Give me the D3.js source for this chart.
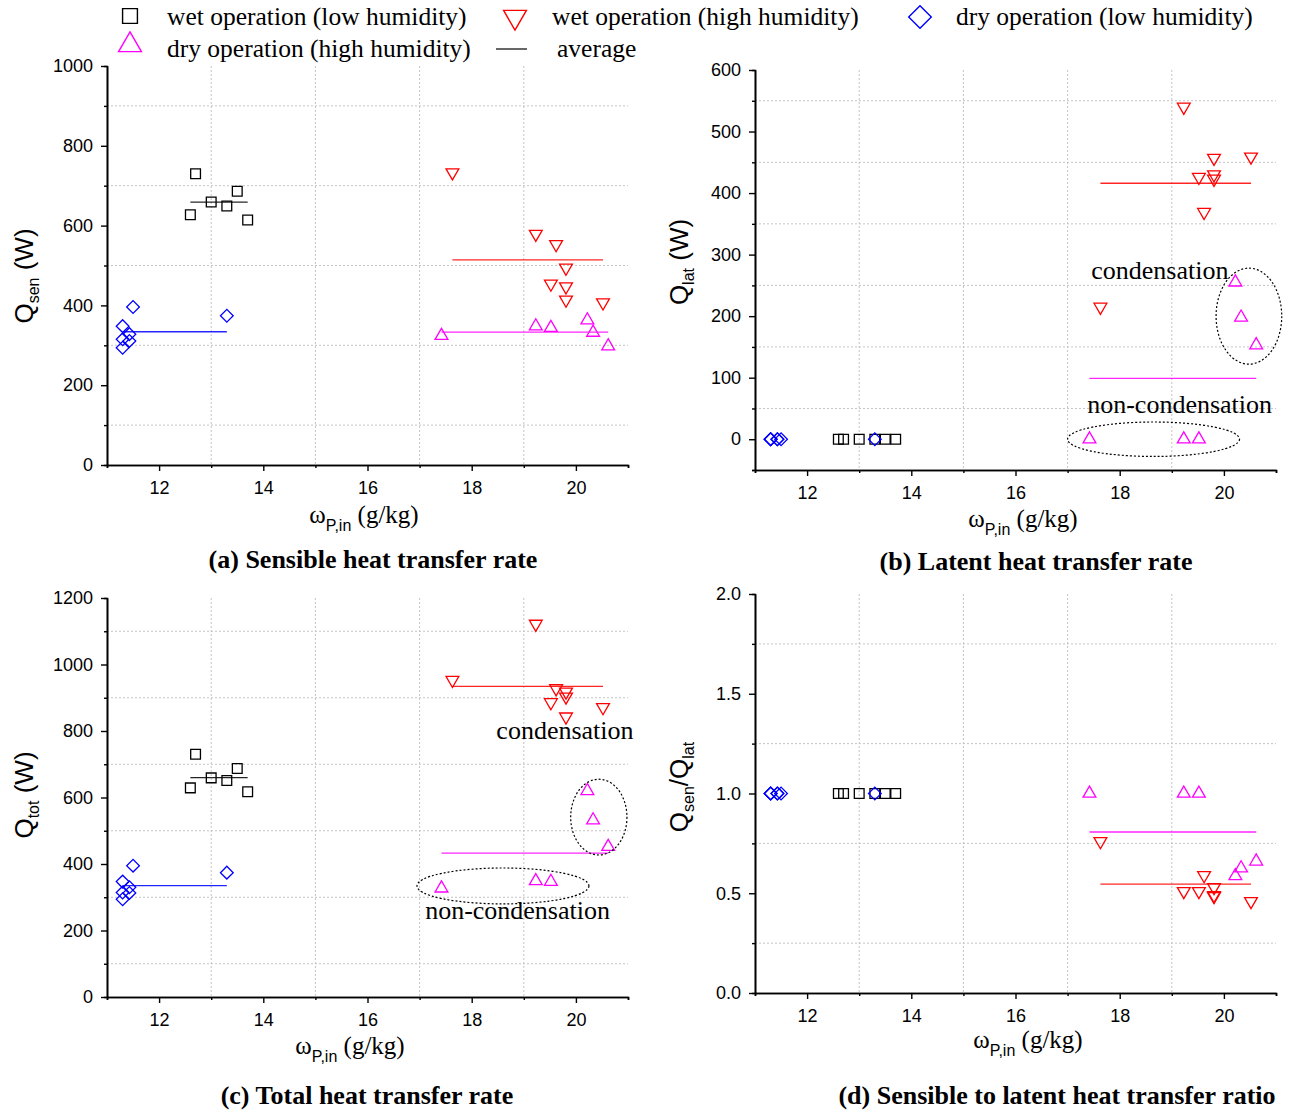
<!DOCTYPE html>
<html lang="en">
<head>
<meta charset="utf-8">
<title></title>
<script src="https://d3js.org/d3.v7.min.js"></script>
<style>
  body { margin: 0; background: #fff; }
  svg { display: block; }
  .tick text { font-family: "Liberation Sans", Arial, sans-serif; font-size: 18px; fill: #000; }
  .domain { stroke: #000; stroke-width: 1.6px; }
  .tick line { stroke: #000; stroke-width: 1.4px; }
  .grid line { stroke: #c4c4c4; stroke-width: 1px; stroke-dasharray: 2,2; }
  .serif { font-family: "Liberation Serif", "Times New Roman", serif; }
  .sans { font-family: "Liberation Sans", Arial, sans-serif; }
</style>
</head>
<body>
<svg width="1294" height="1112"></svg>
<script>
// humidity ratio w_P,in (g/kg) of each run
var xWetLow  = [12.6, 12.7, 13.0, 13.3, 13.5, 13.7];
var xDryLow  = [11.3, 11.3, 11.3, 11.43, 11.43, 11.5, 13.3];
var xWetHigh = [17.63, 19.23, 19.52, 19.62, 19.81, 19.81, 19.81, 20.52];
var xDryHigh = [17.42, 19.23, 19.52, 20.22, 20.33, 20.62];

// (a) sensible (W)
var senWetLow  = [627, 730, 659, 649, 686, 614];
var senDryLow  = [348, 315, 294, 328, 311, 396, 374];
var senWetHigh = [733, 579, 454, 553, 494, 447, 414, 407];
var senDryHigh = [324, 348, 344, 363, 332, 298];

// (b) latent (W)
var latWetLow  = [0, 0, 0, 0, 0, 0];
var latDryLow  = [0, 0, 0, 0, 0, 0, 0];
var latWetHigh = [215, 540, 426, 369, 423, 457, 430, 459];
var latDryHigh = [0, 0, 0, 255, 198, 153];

// (c) total (W)
var totWetLow  = [629, 730, 659, 651, 687, 617];
var totDryLow  = [347, 314, 294, 330, 313, 395, 374];
var totWetHigh = [953, 1122, 886, 928, 918, 903, 843, 871];
var totDryHigh = [327, 349, 347, 620, 532, 452];

// (d) ratio
var ratWetLow  = [1, 1, 1, 1, 1, 1];
var ratDryLow  = [1, 1, 1, 1, 1, 1, 1];
var ratWetHigh = [0.76, 0.51, 0.51, 0.59, 0.53, 0.49, 0.485, 0.46];
var ratDryHigh = [1, 1, 1, 0.587, 0.626, 0.66];

// averages, order: wet low, dry low, wet high, dry high (null = not shown)
var avgSen = [659, 334, 514, 333];
var avgLat = [null, null, 416, 99];
var avgTot = [660, 335, 934, 433];
var avgRat = [null, null, 0.546, 0.807];

var legendLabels = ["wet operation (low humidity)", "wet operation (high humidity)",
                    "dry operation (low humidity)", "dry operation (high humidity)", "average"];
var xMajor = [12, 14, 16, 18, 20];
var xMinor = [11, 13, 15, 17, 19, 21];

var svg = d3.select("svg");
var colors = ["#000000", "#ff0000", "#0000ff", "#ff00ff"];

// marker shapes
var sq = d3.symbol().type(d3.symbolSquare);
var tri = d3.symbol().type(d3.symbolTriangle);
function marker(sel, kind, size) {
  if (kind == 0) sel.attr("d", sq.size(size)());
  if (kind == 1) sel.attr("d", tri.size(size * 0.75)()).attr("transform", function() { return d3.select(this).attr("transform") + " rotate(180)"; });
  if (kind == 2) sel.attr("d", sq.size(size * 0.85)()).attr("transform", function() { return d3.select(this).attr("transform") + " rotate(45)"; });
  if (kind == 3) sel.attr("d", tri.size(size * 0.75)());
}

function panel(p) {
  var g = svg.append("g");
  var x = d3.scaleLinear().domain([11, 21]).range([p.left, p.left + 521]);
  var y = d3.scaleLinear().domain(p.yDomain).range([p.bottom, p.top]);

  // dotted grid at minor positions
  var grid = g.append("g").attr("class", "grid");
  grid.selectAll(".v").data([13, 15, 17, 19]).enter().append("line")
    .attr("x1", d => x(d)).attr("x2", d => x(d))
    .attr("y1", p.top).attr("y2", p.bottom);
  grid.selectAll(".h").data(p.yGrid).enter().append("line")
    .attr("x1", p.left).attr("x2", p.left + 521)
    .attr("y1", d => y(d)).attr("y2", d => y(d));

  // average lines
  p.avg.forEach(function(a, i) {
    if (a == null) return;
    var ext = d3.extent(p.xs[i]);
    g.append("line")
      .attr("x1", x(ext[0])).attr("x2", x(ext[1]))
      .attr("y1", y(a)).attr("y2", y(a))
      .attr("stroke", colors[p.order[i]]).attr("stroke-width", 1.3).attr("opacity", 0.85);
  });

  // points: series order wet low, dry low, wet high, dry high
  p.ys.forEach(function(vals, i) {
    var kind = p.order[i];
    var pts = vals.map((v, j) => [p.xs[i][j], v]);
    g.append("g").selectAll("path").data(pts).enter().append("path")
      .attr("transform", d => `translate(${x(d[0])},${y(d[1])})`)
      .attr("fill", "none").attr("stroke", colors[kind]).attr("stroke-width", 1.3)
      .each(function() { marker(d3.select(this), kind, 95); });
  });

  // axes
  g.append("g").attr("transform", `translate(0,${p.bottom})`)
    .call(d3.axisBottom(x).tickValues(xMinor).tickSize(3).tickFormat(""));
  g.append("g").attr("transform", `translate(0,${p.bottom})`)
    .call(d3.axisBottom(x).tickValues(xMajor).tickSize(6).tickSizeOuter(0).tickPadding(10));
  g.append("g").attr("transform", `translate(${p.left},0)`)
    .call(d3.axisLeft(y).tickValues(p.yMinor).tickSize(3).tickFormat(""));
  g.append("g").attr("transform", `translate(${p.left},0)`)
    .call(d3.axisLeft(y).tickValues(p.yMajor).tickSize(6).tickSizeOuter(0).tickPadding(8).tickFormat(p.fmt));

  // y title (rotated, with subscripts)
  var yt = svg.append("text").attr("class", "sans")
    .attr("transform", `translate(${p.ytx},${p.yty}) rotate(-90)`)
    .attr("text-anchor", "middle").attr("font-size", 26);
  p.ytitle.forEach(function(t) {
    yt.append("tspan").text(t[0]).attr("font-size", t[1] ? 16 : 26).attr("dy", t[2]);
  });

  // x title
  var xt = svg.append("text").attr("class", "serif")
    .attr("x", p.xtx).attr("y", p.xty).attr("text-anchor", "middle").attr("font-size", 25);
  xt.append("tspan").text("\u03c9");
  xt.append("tspan").text("P,in").attr("class", "sans").attr("font-size", 16).attr("dy", 8);
  xt.append("tspan").text(" (g/kg)").attr("dy", -8);

  // caption
  svg.append("text").attr("class", "serif").attr("font-weight", "bold").attr("font-size", 26)
    .attr("x", p.capx).attr("y", p.capy).attr("text-anchor", "middle").text(p.caption);

  // annotations
  (p.notes || []).forEach(function(n) {
    if (n.rx) {
      g.append("ellipse").attr("cx", x(n.x)).attr("cy", y(n.y))
        .attr("rx", x(n.x + n.rx) - x(n.x)).attr("ry", y(n.y) - y(n.y + n.ry))
        .attr("fill", "none").attr("stroke", "#000").attr("stroke-width", 1.2).attr("stroke-dasharray", "2,2");
    } else {
      g.append("text").attr("class", "serif").attr("font-size", 26).attr("text-anchor", "middle")
        .attr("x", x(n.x)).attr("y", y(n.y)).text(n.text);
    }
  });
}

var xsAll = [xWetLow, xDryLow, xWetHigh, xDryHigh];
var order = [0, 2, 1, 3];

panel({ left: 107, top: 66, bottom: 465, yDomain: [0, 1000],
  yMajor: d3.range(0, 1001, 200), yMinor: d3.range(100, 1000, 200), yGrid: d3.range(100, 1000, 200),
  fmt: d3.format("d"), xs: xsAll, order: order,
  ys: [senWetLow, senDryLow, senWetHigh, senDryHigh], avg: avgSen,
  ytx: 33, yty: 276, ytitle: [["Q", 0, 0], ["sen", 1, 6], [" (W)", 0, -6]],
  xtx: 364, xty: 523, capx: 373, capy: 568, caption: "(a) Sensible heat transfer rate" });

panel({ left: 755, top: 70, bottom: 470, yDomain: [-50, 600],
  yMajor: d3.range(0, 601, 100), yMinor: d3.range(-50, 600, 100), yGrid: d3.range(50, 600, 100),
  fmt: d3.format("d"), xs: xsAll, order: order,
  ys: [latWetLow, latDryLow, latWetHigh, latDryHigh], avg: avgLat,
  ytx: 688, yty: 262, ytitle: [["Q", 0, 0], ["lat", 1, 6], [" (W)", 0, -6]],
  xtx: 1023, xty: 527, capx: 1036, capy: 570, caption: "(b) Latent heat transfer rate",
  notes: [{ text: "condensation", x: 18.77, y: 260 },
          { text: "non-condensation", x: 19.15, y: 42 },
          { x: 20.48, y: 200, rx: 0.63, ry: 78 },
          { x: 18.65, y: 0, rx: 1.65, ry: 28 }] });

panel({ left: 107, top: 598, bottom: 997, yDomain: [0, 1200],
  yMajor: d3.range(0, 1201, 200), yMinor: d3.range(100, 1200, 200), yGrid: d3.range(100, 1200, 200),
  fmt: d3.format("d"), xs: xsAll, order: order,
  ys: [totWetLow, totDryLow, totWetHigh, totDryHigh], avg: avgTot,
  ytx: 33, yty: 795, ytitle: [["Q", 0, 0], ["tot", 1, 6], [" (W)", 0, -6]],
  xtx: 350, xty: 1054, capx: 367, capy: 1104, caption: "(c) Total heat transfer rate",
  notes: [{ text: "condensation", x: 19.79, y: 776 },
          { text: "non-condensation", x: 18.88, y: 235 },
          { x: 20.44, y: 541, rx: 0.54, ry: 114 },
          { x: 18.6, y: 334, rx: 1.65, ry: 54 }] });

panel({ left: 755, top: 594, bottom: 993, yDomain: [0, 2],
  yMajor: [0, 0.5, 1, 1.5, 2], yMinor: [0.25, 0.75, 1.25, 1.75], yGrid: [0.25, 0.75, 1.25, 1.75],
  fmt: d3.format(".1f"), xs: xsAll, order: order,
  ys: [ratWetLow, ratDryLow, ratWetHigh, ratDryHigh], avg: avgRat,
  ytx: 688, yty: 787, ytitle: [["Q", 0, 0], ["sen", 1, 6], ["/Q", 0, -6], ["lat", 1, 6]],
  xtx: 1028, xty: 1048, capx: 1057, capy: 1104, caption: "(d) Sensible to latent heat transfer ratio" });

// legend
var leg = svg.append("g");
var legPos = [[130, 16, 167, 25], [515, 17, 552, 25], [920, 17, 956, 25], [130, 45, 167, 57]];
legPos.forEach(function(lp, i) {
  var kind = i;
  leg.append("path").attr("transform", `translate(${lp[0]},${lp[1]})`)
    .attr("fill", "none").attr("stroke", colors[kind]).attr("stroke-width", 1.4)
    .each(function() { marker(d3.select(this), kind, kind == 0 ? 220 : 300); });
  leg.append("text").attr("class", "serif").attr("font-size", 25.5)
    .attr("x", lp[2]).attr("y", lp[3]).text(legendLabels[i]);
});
leg.append("line").attr("x1", 496).attr("x2", 527).attr("y1", 49).attr("y2", 49)
  .attr("stroke", "#000").attr("stroke-width", 1.2);
leg.append("text").attr("class", "serif").attr("font-size", 25.5)
  .attr("x", 557).attr("y", 57).text(legendLabels[4]);
</script>
</body>
</html>
